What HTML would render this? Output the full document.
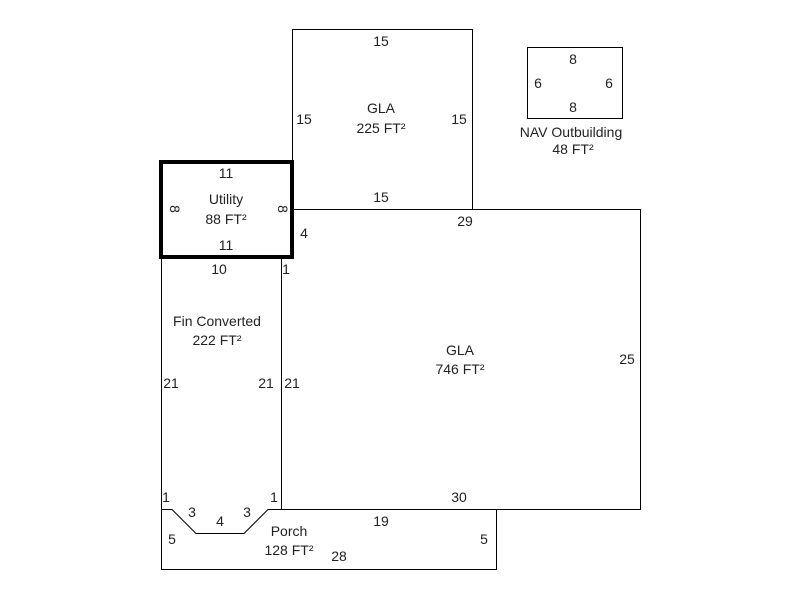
<!DOCTYPE html>
<html><head><style>body{margin:0;background:#fff}svg{display:block}text{font-family:"Liberation Sans",Arial,sans-serif;font-size:14px;fill:#222}</style></head>
<body>
<svg width="800" height="600" viewBox="0 0 800 600">
<g fill="none" stroke="#000" stroke-width="1">
<rect x="292.5" y="29.5" width="180" height="180"/>
<rect x="527.5" y="47.5" width="95" height="71"/>
<path d="M292 209.5 H640.5 V509.5 H268"/>
<path d="M281.5 257 V509.5"/>
<path d="M161.5 257 V509.5 H172"/>
<path d="M161.5 509.5 H172 L196 533.5 H244 L268 509.5 H496.5 V569.5 H161.5 Z"/>
</g>
<rect x="161" y="162" width="131" height="95" fill="none" stroke="#000" stroke-width="4"/>
<g text-anchor="middle">
<text x="381" y="46">15</text>
<text x="304" y="124">15</text>
<text x="459" y="124">15</text>
<text x="381" y="113">GLA</text>
<text x="381" y="133">225 FT²</text>
<text x="381" y="202">15</text>
<text x="573" y="64">8</text>
<text x="538" y="88">6</text>
<text x="609" y="88">6</text>
<text x="573" y="112">8</text>
<text x="571" y="137">NAV Outbuilding</text>
<text x="573" y="154">48 FT²</text>
<text x="226" y="178">11</text>
<text x="226" y="204">Utility</text>
<text x="226" y="224">88 FT²</text>
<text x="226" y="250">11</text>
<text x="171" y="210" transform="rotate(90 171 209)">8</text>
<text x="279" y="210" transform="rotate(90 279 209)">8</text>
<text x="304" y="238">4</text>
<text x="465" y="226">29</text>
<text x="219" y="274">10</text>
<text x="286" y="274">1</text>
<text x="217" y="326">Fin Converted</text>
<text x="217" y="345">222 FT²</text>
<text x="171" y="388">21</text>
<text x="266" y="388">21</text>
<text x="292" y="388">21</text>
<text x="460" y="355">GLA</text>
<text x="460" y="374">746 FT²</text>
<text x="627" y="364">25</text>
<text x="166" y="502">1</text>
<text x="274" y="502">1</text>
<text x="459" y="502">30</text>
<text x="192" y="517">3</text>
<text x="220" y="526">4</text>
<text x="247" y="517">3</text>
<text x="381" y="526">19</text>
<text x="172" y="544">5</text>
<text x="484" y="544">5</text>
<text x="289" y="536">Porch</text>
<text x="289" y="555">128 FT²</text>
<text x="339" y="561">28</text>
</g>
</svg>
</body></html>
